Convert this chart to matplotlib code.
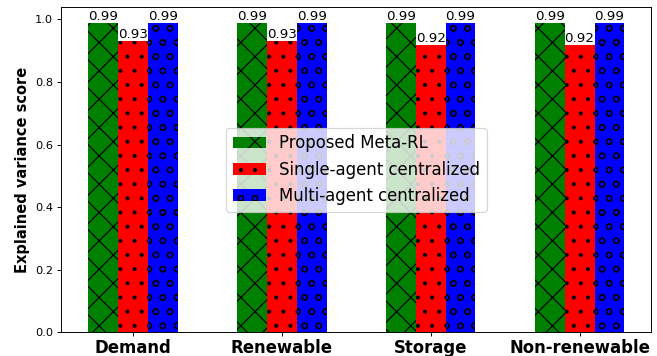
import numpy as np
import matplotlib
matplotlib.use("Agg")
import matplotlib.pyplot as plt

# === Datos ===
categories = ["Demand", "Renewable", "Storage", "Non-renewable"]
series_names = ["Proposed Meta-RL", "Single-agent centralized", "Multi-agent centralized"]
meta_rl = [0.99, 0.99, 0.99, 0.99]
single_agent = [0.93, 0.93, 0.92, 0.92]
multi_agent = [0.99, 0.99, 0.99, 0.99]

colors = ["green", "red", "blue"]
hatches = ["x", ".", "o"]

# dpi 85 para que la densidad de los hatch coincida con la referencia
DPI = 85
fig, ax = plt.subplots(figsize=(657 / DPI, 356 / DPI), dpi=DPI)
fig.subplots_adjust(left=0.0936, right=0.991, bottom=0.0666, top=0.980)

x = np.arange(len(categories))
width = 0.2

for i, (vals, name) in enumerate(zip([meta_rl, single_agent, multi_agent], series_names)):
    bars = ax.bar(x + (i - 1) * width, vals, width, label=name, color=colors[i],
                  hatch=hatches[i], edgecolor="black", linewidth=0)
    ax.bar_label(bars, labels=[f"{v:.2f}" for v in vals], padding=0, fontsize=11.3)

ax.set_xticks(x)
ax.set_xticklabels(categories, fontsize=14, fontweight="bold")
ax.tick_params(axis="x", pad=2)
ax.set_ylabel("Explained variance score", fontsize=12.4, fontweight="bold")
ax.tick_params(axis="y", labelsize=9.6)
ax.legend(loc="center", fontsize=14)

plt.savefig("out.png", dpi=DPI)
